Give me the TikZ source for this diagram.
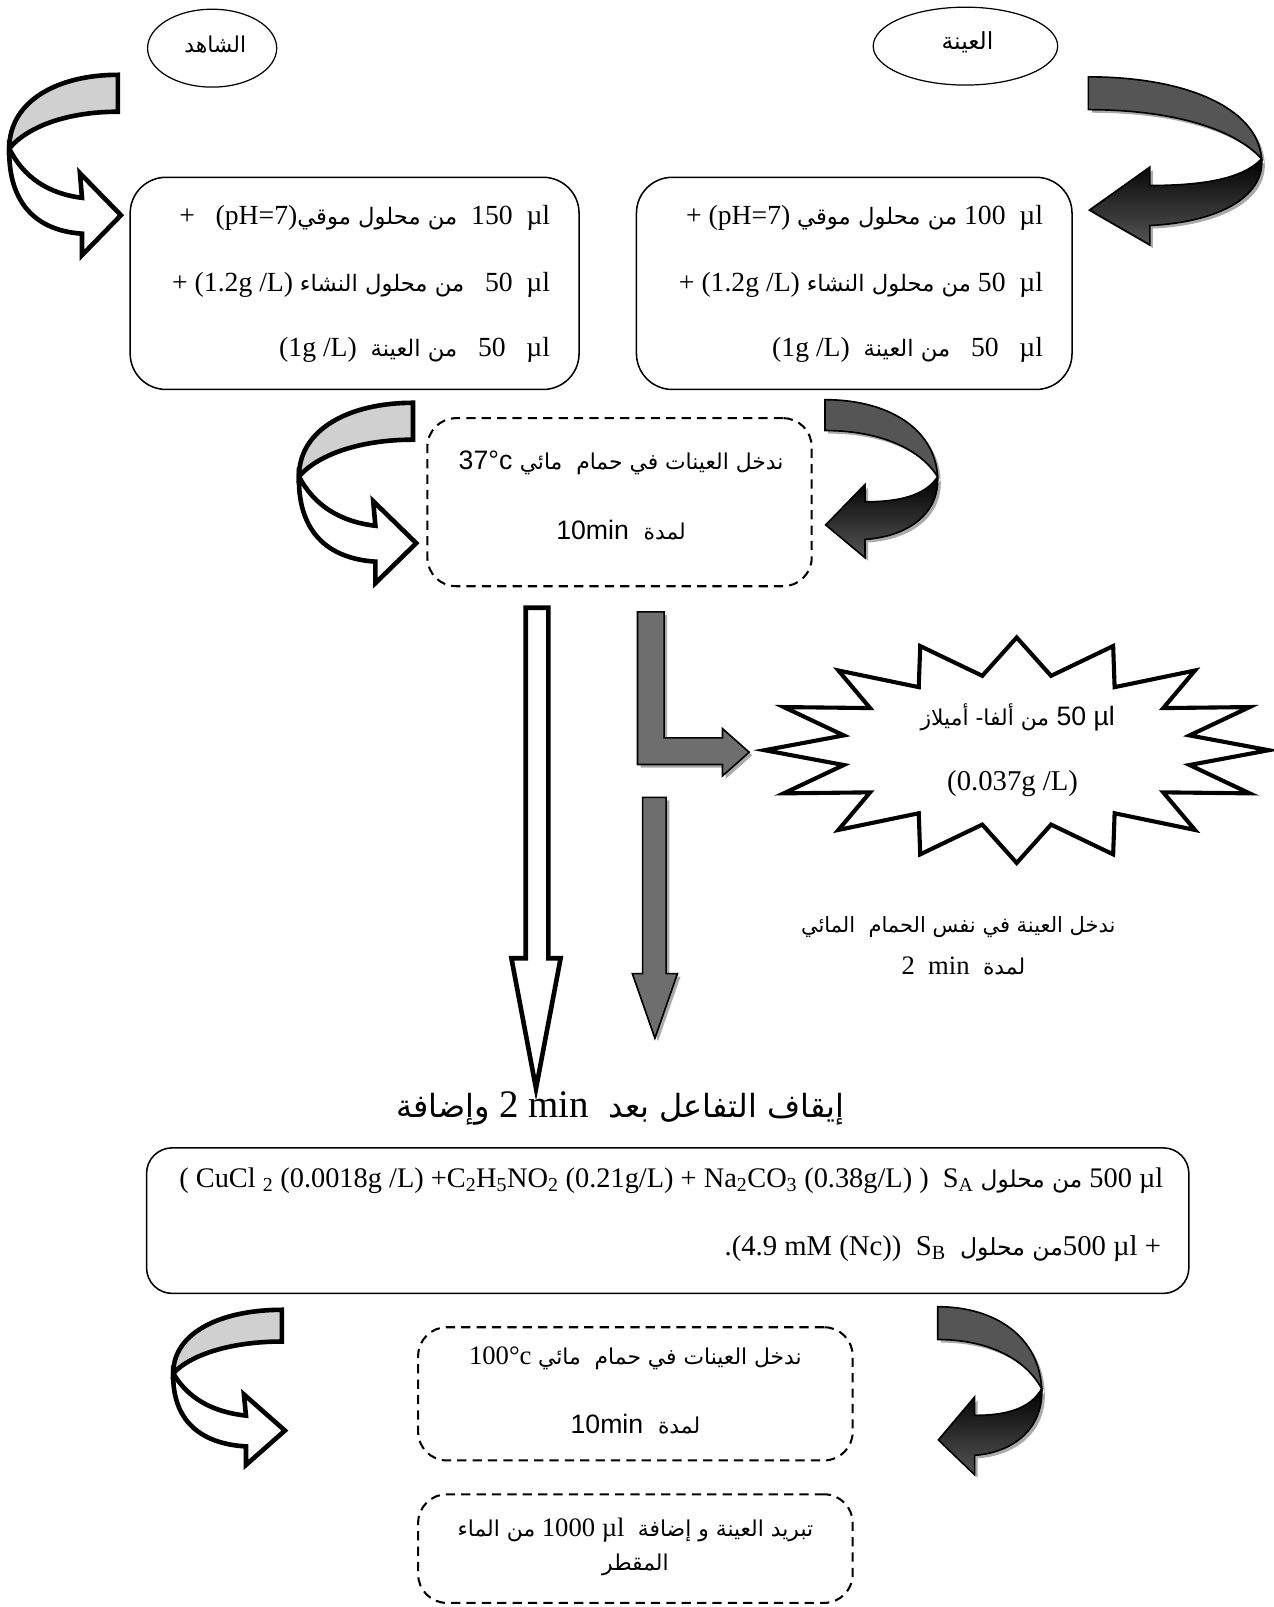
\documentclass[tikz,border=0pt]{standalone}
\usepackage{fontspec}
\setmainfont{Liberation Serif}
\newfontfamily\sansf{Liberation Sans}
\newfontfamily\arabicfont[Script=Arabic,Scale=0.82]{DejaVu Sans}
\TeXXeTstate=1
\usetikzlibrary{shapes.geometric}
\newcommand\ar[1]{{\arabicfont\beginR #1\endR}}
\newcommand\sbs[1]{\textsubscript{#1}}
\definecolor{darkg}{RGB}{85,85,85}
\definecolor{midg}{RGB}{110,110,110}
\definecolor{lightg}{RGB}{208,208,208}
\definecolor{shad}{RGB}{170,170,170}
\tikzset{
 lightarrow/.style={line width=4.5pt, line join=miter, draw=black},
 darkarrow/.style={line width=1.6pt, line join=miter, draw=black},
 solidbox/.style={draw, line width=1.5pt, rounded corners=35pt},
 dashbox/.style={draw, line width=2pt, dash pattern=on 9pt off 6pt, rounded corners=28pt},
 txt/.style={font=\fontsize{27}{32}\selectfont, inner sep=0pt},
 stxt/.style={font=\sansf\fontsize{26}{31}\selectfont, inner sep=0pt},
 gradbar/.style={darkarrow, top color=midg, middle color=black, bottom color=midg},
}
\newcommand\lcurl[4]{%
\begin{scope}[shift={(#1,#2)},xscale=#3,yscale=#4]
\draw[lightarrow, fill=lightg] (0,0) .. controls (-58,0) and (-106,25) .. (-106,72) .. controls (-88,50) and (-48,36) .. (0,36) -- cycle;
\draw[lightarrow, fill=white] (-106,72) .. controls (-92,100) and (-68,116) .. (-35,120) -- (-37,96) -- (3,137) -- (-35,176) -- (-35,155) .. controls (-80,152) and (-107,125) .. (-106,72) -- cycle;
\end{scope}}
\newcommand\rcurl[4]{%
\begin{scope}[shift={(#1+3,#2+3)},xscale=-#3,yscale=#4]
\fill[shad] (0,0) .. controls (-95,0) and (-165,30) .. (-169,80) .. controls (-140,48) and (-75,32) .. (0,32) -- cycle;
\fill[shad] (-169,80) .. controls (-150,100) and (-110,106) .. (-60,106) -- (-60,88) -- (-1,130) -- (-60,164) -- (-60,145) .. controls (-125,142) and (-172,118) .. (-169,80) -- cycle;
\end{scope}
\begin{scope}[shift={(#1,#2)},xscale=-#3,yscale=#4]
\draw[darkarrow, fill=darkg] (0,0) .. controls (-95,0) and (-165,30) .. (-169,80) .. controls (-140,48) and (-75,32) .. (0,32) -- cycle;
\draw[darkarrow, top color=black, bottom color=darkg] (-169,80) .. controls (-150,100) and (-110,106) .. (-60,106) -- (-60,88) -- (-1,130) -- (-60,164) -- (-60,145) .. controls (-125,142) and (-172,118) .. (-169,80) -- cycle;
\end{scope}}
\begin{document}
\begin{tikzpicture}[x=1pt,y=-1pt]
\useasboundingbox (0,0) rectangle (1243,1568);
\fill[white] (0,0) rectangle (1243,1568);

% ---- top ellipses
\node[draw, ellipse, line width=1.2pt, minimum width=126pt, minimum height=76pt] (shahed) at (207,47) {};
\node[txt, font=\fontsize{26}{30}\selectfont] (shahedT) at (210,43) {\ar{الشاهد}};
\node[draw, ellipse, line width=1.2pt, minimum width=180pt, minimum height=76pt] (ayna) at (942,45) {};
\node[txt, font=\fontsize{28}{30}\selectfont] (aynaT) at (944,41) {\ar{العينة}};

% ---- curly arrows
\lcurl{115}{73}{1}{1}
\rcurl{1062}{75}{1}{1}
\lcurl{403}{393}{1.05}{1}
\rcurl{805}{390}{0.65}{0.94}
\lcurl{275}{1278}{1}{0.86}
\rcurl{915}{1275}{0.6}{1}

% ---- top boxes
\node[solidbox, minimum width=438pt, minimum height=207pt] (lbox) at (346,276.5) {};
\node[txt, anchor=east] (l1) at (537,213) {+\ \ \ (pH=7)\ar{من محلول موقي}\ \ 150\ \ µl};
\node[txt, anchor=east] (l2) at (537,278) {+ (1.2g /L)\ \ar{من محلول النشاء}\ \ \ 50\ \ µl};
\node[txt, anchor=east] (l3) at (537,341) {(1g /L)\ \ \ar{من العينة}\ \ \ 50\ \ \ µl};

\node[solidbox, minimum width=425pt, minimum height=207pt] (rbox) at (833.5,276.5) {};
\node[txt, anchor=east] (r1) at (1018,213) {+ (pH=7)\ \ar{من محلول موقي}\ 100\ \ µl};
\node[txt, anchor=east] (r2) at (1018,278) {+ (1.2g /L)\ \ar{من محلول النشاء}\ 50\ \ µl};
\node[txt, anchor=east] (r3) at (1018,341) {(1g /L)\ \ \ar{من العينة}\ \ \ 50\ \ \ µl};

% ---- dashed box 1
\node[dashbox, minimum width=375pt, minimum height=164pt] (bath1) at (604.5,490) {};
\node[stxt] (b1a) at (606,452) {37°c\ \ar{ندخل العينات في حمام\ \ مائي}};
\node[stxt] (b1b) at (606,517) {10min\ \ \ar{لمدة}};

% ---- straight arrows
\draw[lightarrow, fill=white] (513,593) -- (535,593) -- (535,935) -- (547,935) -- (523,1062) -- (499,935) -- (513,935) -- cycle;
\fill[shad] (625,600) -- (651,600) -- (651,723) -- (708,723) -- (708,714) -- (734,737) -- (708,760) -- (708,749) -- (625,749) -- cycle;
\draw[gradbar] (622,597) -- (648,597) -- (648,720) -- (705,720) -- (705,711) -- (731,734) -- (705,757) -- (705,746) -- (622,746) -- cycle;
\fill[shad] (630,781) -- (653,781) -- (653,953) -- (664,953) -- (642,1016) -- (620,953) -- (630,953) -- cycle;
\draw[gradbar] (627,778) -- (650,778) -- (650,950) -- (661,950) -- (639,1013) -- (617,950) -- (627,950) -- cycle;

% ---- star
\draw[line width=4pt, line join=miter, fill=white] (992,622)
  \foreach \k in {0,...,15} { -- ({992+172*sin(\k*22.5+11.25)},{732-74*cos(\k*22.5+11.25)}) -- ({992+246*sin((\k+1)*22.5)},{732-110*cos((\k+1)*22.5)}) } -- cycle;
\node[stxt] (s1) at (993,700) {\ar{من ألفا- أميلاز}\ 50 µl};
\node[txt, font=\fontsize{28}{32}\selectfont] (s2) at (988,765) {(0.037g /L)};

\node[txt, font=\fontsize{25}{30}\selectfont] (w1) at (935,905) {\ar{ندخل العينة في نفس الحمام\ \ المائي}};
\node[txt, font=\fontsize{26}{30}\selectfont] (w2) at (940,943) {2\ \ min\ \ \ar{لمدة}};

% ---- title
\node[txt, font=\fontsize{38}{44}\selectfont] (title) at (605,1082) {\ar{وإضافة} 2 min\ \ \ar{إيقاف التفاعل بعد}};

% ---- big box
\node[solidbox, rounded corners=25pt, minimum width=1017pt, minimum height=142pt] (big) at (651.5,1191) {};
\node[txt, font=\fontsize{26}{30}\selectfont] (g1) at (655,1152) {\resizebox{960pt}{!}{( CuCl \sbs{2} (0.0018g /L) +C\sbs{2}H\sbs{5}NO\sbs{2} (0.21g/L) + Na\sbs{2}CO\sbs{3} (0.38g/L) )\ \ S\sbs{A} \ar{من محلول} 500 µl}};
\node[txt, font=\fontsize{28}{32}\selectfont, anchor=east] (g2) at (1133,1218) {.(4.9 mM (Nc))\ \ S\sbs{B}\ \ \ar{من محلول}500 µl +};

% ---- dashed boxes 2 and 3
\node[dashbox, minimum width=424pt, minimum height=130pt] (bath2) at (620,1360) {};
\node[txt, font=\fontsize{26}{30}\selectfont] (b2a) at (620,1325) {100°c\ \ar{ندخل العينات في حمام\ \ مائي}};
\node[stxt] (b2b) at (620,1390) {10min\ \ \ar{لمدة}};
\node[dashbox, minimum width=424pt, minimum height=106pt] (cool) at (620,1511) {};
\node[txt, font=\fontsize{26}{30}\selectfont] (c1) at (620,1493) {\ar{من الماء} 1000 µl\ \ \ar{تبريد العينة و إضافة}};
\node[txt, font=\fontsize{26}{30}\selectfont] (c2) at (620,1527) {\ar{المقطر}};
\end{tikzpicture}
\end{document}
